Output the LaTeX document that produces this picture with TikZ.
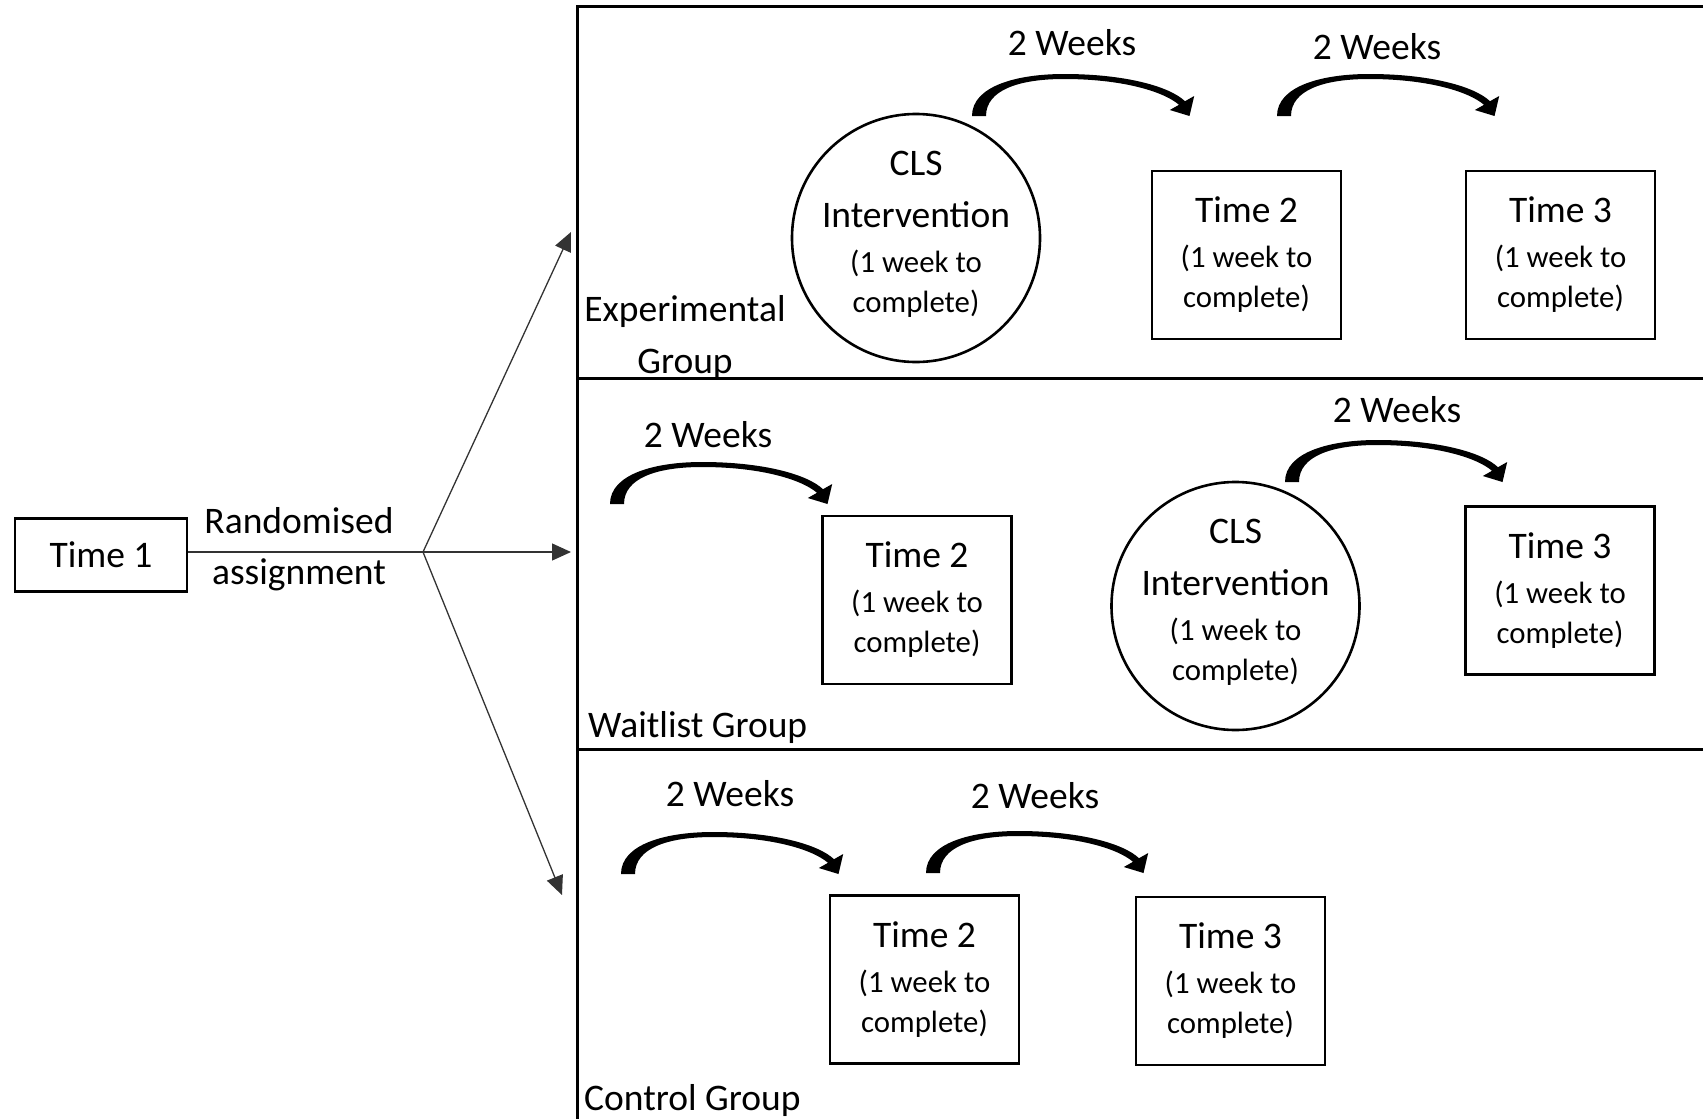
\documentclass[tikz,border=0pt]{standalone}
\usepackage{fontspec}
\setmainfont{Carlito}
\usetikzlibrary{arrows.meta}
\newcommand\bigtxt{\fontsize{37.5}{40}\selectfont}
\tikzset{
  frameline/.style={line width=3},
  boxnode/.style={draw, line width=2.6, rectangle, minimum width=189, minimum height=168, inner sep=0, align=center, font=\fontsize{30.8}{40}\selectfont},
  circnode/.style={draw, line width=2.6, circle, minimum size=248, inner sep=-20pt, align=center, font=\fontsize{30.8}{40}\selectfont},
  lbl/.style={inner sep=0, align=center, font=\fontsize{37.5}{52}\selectfont},
  branch/.style={line width=1.3, draw=black!80, -{Triangle[length=19,width=17]}},
  weeks/.pic={
    \fill (-7,0) .. controls (-7,-30) and (38,-42) .. (85,-42)
      .. controls (145,-42) and (190,-30) .. (206,-14.8)
      -- (215.2,-20) -- (210.5,0) -- (190.8,-6) -- (200,-11.2)
      .. controls (184,-25) and (142,-37) .. (85,-37)
      .. controls (40,-37) and (7,-26) .. (7,0) -- cycle;
  }
}
\begin{document}
\begin{tikzpicture}[x=1pt,y=-1pt]
\useasboundingbox (0,0) rectangle (1703,1119);
% frame
\draw[frameline] (1703,6) -- (577,6) -- (577,1119);
\draw[frameline] (577,378) -- (1703,378);
\draw[frameline] (577,749) -- (1703,749);
% left part
\node[draw, line width=2.6, minimum width=172, minimum height=73, inner sep=0, font=\bigtxt] (t1) at (101,555) {Time 1};
\node[lbl, font=\fontsize{37.5}{51}\selectfont] (rand) at (299,549) {Randomised\\assignment};
\coordinate (j) at (423,552);
\coordinate (a1) at (571,232);
\coordinate (a2) at (571,552);
\coordinate (a3) at (562,895);
\draw[line width=1.3, draw=black!80] (t1.east |- j) -- (j);
\draw[branch] (j) -- (a1);
\draw[branch] (j) -- (a2);
\draw[branch] (j) -- (a3);
% experimental group
\node[circnode] (ec) at (916,238) {{\bigtxt CLS}\\[12pt]{\bigtxt Intervention}\\[5pt](1 week to\\complete)\rule[-12pt]{0pt}{0pt}};
\node[boxnode] (e2) at (1246.5,255) {{\bigtxt Time 2}\\[5pt](1 week to\\complete)};
\node[boxnode] (e3) at (1560.5,255) {{\bigtxt Time 3}\\[5pt](1 week to\\complete)};
\node[lbl] (elab) at (685,337) {Experimental\\Group};
\pic at (979,116) {weeks};
\pic at (1284,116) {weeks};
\node[lbl] (ew1) at (1072,43) {2 Weeks};
\node[lbl] (ew2) at (1377,47) {2 Weeks};
% waitlist group
\node[boxnode] (w2) at (917,600) {{\bigtxt Time 2}\\[5pt](1 week to\\complete)};
\node[circnode] (wc) at (1235.5,606) {{\bigtxt CLS}\\[12pt]{\bigtxt Intervention}\\[5pt](1 week to\\complete)\rule[-12pt]{0pt}{0pt}};
\node[boxnode] (w3) at (1560,590.5) {{\bigtxt Time 3}\\[5pt](1 week to\\complete)};
\node[lbl, anchor=west] (wlab) at (588,727) {Waitlist Group};
\pic at (617,504) {weeks};
\pic at (1292,482) {weeks};
\node[lbl] (ww1) at (708,435) {2 Weeks};
\node[lbl] (ww2) at (1397,410) {2 Weeks};
% control group
\node[boxnode] (c2) at (924.5,979.5) {{\bigtxt Time 2}\\[5pt](1 week to\\complete)};
\node[boxnode] (c3) at (1230.5,981) {{\bigtxt Time 3}\\[5pt](1 week to\\complete)};
\node[lbl, anchor=west] (clab) at (584,1100) {Control Group};
\pic at (628,874) {weeks};
\pic at (933,873) {weeks};
\node[lbl] (cw1) at (730,794) {2 Weeks};
\node[lbl] (cw2) at (1035,796) {2 Weeks};
\end{tikzpicture}
\end{document}
